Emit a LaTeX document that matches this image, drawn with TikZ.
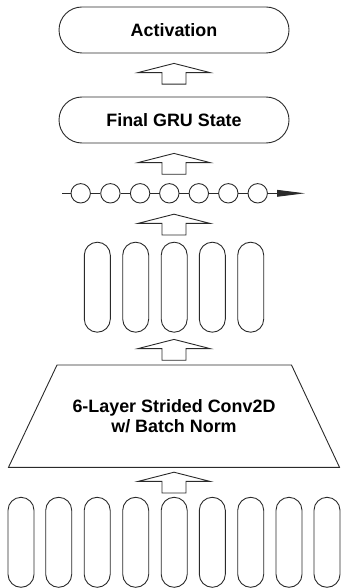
\documentclass[tikz,border=0pt]{standalone}
\usepackage{fontspec}
\setmainfont{Liberation Sans}
\usetikzlibrary{arrows.meta}
\definecolor{ink}{HTML}{2A2A2A}
\begin{document}
\begin{tikzpicture}[x=1pt,y=-1pt,
  every node/.style={font=\bfseries\fontsize{17.9}{20}\selectfont, text=black},
  line/.style={draw=ink, line width=0.9pt},
  capsule/.style={line, rectangle, rounded corners=23pt, minimum width=230pt, minimum height=46pt, inner sep=0pt},
  pill/.style={line, rectangle, rounded corners=13pt, minimum width=26pt, minimum height=90pt, inner sep=0pt},
  ring/.style={line, circle, minimum size=19.4pt, inner sep=0pt},
  blockarrow/.pic={\draw[line, line join=miter] (0,0) -- (36,9.2) -- (12,9.2) -- (12,20.8) -- (-12,20.8) -- (-12,9.2) -- (-36,9.2) -- cycle;}
]
\useasboundingbox (0,0) rectangle (340,588);
% top boxes
\node[capsule] (act) at (174,30) {Activation};
\node[capsule] (gru) at (174,120) {Final GRU State};
% block arrows
\pic at (174,63.4) {blockarrow};
\pic at (174,153.4) {blockarrow};
\pic at (174,214.2) {blockarrow};
\pic at (174,339.4) {blockarrow};
\pic at (174,472.2) {blockarrow};
% chain
\coordinate (cs) at (62.3,193.3);
\coordinate (ce) at (305,193.3);
\foreach \i/\x in {1/80.7,2/110.4,3/140.1,4/169.3,5/198.8,6/228.3,7/257.7}{
  \node[ring] (c\i) at (\x,193.3) {};
}
\draw[line] (cs) -- (c1);
\foreach \a/\b in {1/2,2/3,3/4,4/5,5/6,6/7}{\draw[line] (c\a) -- (c\b);}
\draw[line, -{Triangle[length=28pt,width=6.7pt]}] (c7) -- (ce);
% middle pills
\foreach \i/\x in {1/97.3,2/135.7,3/174.2,4/212.3,5/250.7}{
  \node[pill] (m\i) at (\x,287.2) {};
}
% trapezoid
\coordinate (t1) at (57,365);
\coordinate (t2) at (291.5,365);
\coordinate (t3) at (339.5,467.3);
\coordinate (t4) at (8.5,467.3);
\draw[line, line join=miter] (t1) -- (t2) -- (t3) -- (t4) -- cycle;
\node[align=center] (conv) at (174,416.3) {6-Layer Strided Conv2D\\w/ Batch Norm};
% bottom pills
\foreach \i/\x in {1/21,2/58.7,3/97.2,4/135.7,5/174.2,6/212.3,7/250.7,8/289,9/327}{
  \node[pill] (b\i) at (\x,542.3) {};
}
\end{tikzpicture}
\end{document}
